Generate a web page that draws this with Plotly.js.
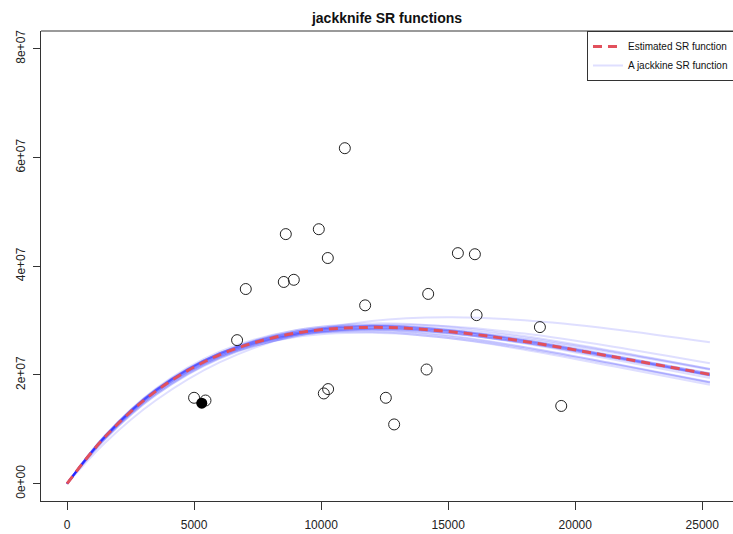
<!DOCTYPE html>
<html>
<head>
<meta charset="utf-8">
<script src="https://cdn.plot.ly/plotly-3.0.1.min.js"></script>
<style>html,body{margin:0;padding:0;background:#fff;overflow:hidden;}#chart{width:733px;height:534px;}</style>
</head>
<body>
<div id="chart"></div>
<script>
// Spawner (S) grid at which the curves were read
const srX = [0, 1500, 3500, 6000, 9000, 12000, 15000, 18000, 21500, 25300];

// Estimated SR function (recruits)
const estimatedR = [0, 8.62e6, 17.03e6, 23.70e6, 27.69e6, 28.75e6, 27.99e6, 26.16e6, 23.34e6, 20.10e6];

// Jackknife SR functions (recruits)
const jk1  = [0, 7.53e6, 15.34e6, 22.30e6, 27.39e6, 29.90e6, 30.60e6, 30.06e6, 28.42e6, 26.00e6];
const jk2  = [0, 8.18e6, 16.35e6, 23.15e6, 27.58e6, 29.20e6, 28.96e6, 27.61e6, 25.20e6, 22.15e6];
const jk3  = [0, 8.39e6, 16.65e6, 23.39e6, 27.61e6, 28.97e6, 28.49e6, 26.88e6, 24.28e6, 21.10e6];
const jk4  = [0, 8.70e6, 17.18e6, 23.91e6, 27.93e6, 29.00e6, 28.23e6, 26.38e6, 23.54e6, 20.20e6];
const jk5  = [0, 8.55e6, 16.88e6, 23.49e6, 27.45e6, 28.50e6, 27.75e6, 25.93e6, 23.14e6, 19.85e6];
const jk6  = [0, 8.80e6, 17.30e6, 23.94e6, 27.79e6, 28.67e6, 27.74e6, 25.76e6, 22.82e6, 19.42e6];
const jk7  = [0, 8.77e6, 17.20e6, 23.72e6, 27.42e6, 28.14e6, 27.13e6, 25.07e6, 22.09e6, 18.70e6];
const jk8  = [0, 8.88e6, 17.49e6, 24.26e6, 28.22e6, 29.18e6, 28.29e6, 26.33e6, 23.38e6, 19.95e6];
const jk9  = [0, 8.58e6, 16.86e6, 23.28e6, 26.97e6, 27.76e6, 26.81e6, 24.84e6, 21.95e6, 18.62e6];
const jk10 = [0, 8.37e6, 16.54e6, 23.12e6, 27.13e6, 28.29e6, 27.64e6, 25.95e6, 23.27e6, 20.07e6];
const jk11 = [0, 8.66e6, 17.14e6, 24.00e6, 28.21e6, 29.48e6, 28.87e6, 27.15e6, 24.40e6, 21.10e6];
const jk12 = [0, 8.84e6, 17.28e6, 23.75e6, 27.33e6, 27.92e6, 26.78e6, 24.65e6, 21.60e6, 18.18e6];
const jk13 = [0, 8.76e6, 17.26e6, 24.00e6, 27.98e6, 28.99e6, 28.15e6, 26.27e6, 23.39e6, 20.02e6];
const jk14 = [0, 8.21e6, 16.33e6, 22.97e6, 27.17e6, 28.56e6, 28.13e6, 26.60e6, 24.08e6, 20.97e6];
const jk15 = [0, 8.91e6, 17.42e6, 23.98e6, 27.66e6, 28.33e6, 27.24e6, 25.13e6, 22.08e6, 18.63e6];
const jk16 = [0, 8.71e6, 17.20e6, 23.94e6, 27.97e6, 29.04e6, 28.27e6, 26.42e6, 23.57e6, 20.30e6];
const jk17 = [0, 8.53e6, 16.86e6, 23.46e6, 27.41e6, 28.46e6, 27.71e6, 25.90e6, 23.11e6, 19.90e6];
const jk18 = [0, 8.65e6, 17.10e6, 23.78e6, 27.75e6, 28.78e6, 27.98e6, 26.10e6, 23.22e6, 19.92e6];
const jk19 = [0, 8.60e6, 16.98e6, 23.62e6, 27.62e6, 28.70e6, 27.98e6, 26.20e6, 23.45e6, 20.28e6];
const jackknifeR = [jk1, jk2, jk3, jk4, jk5, jk6, jk7, jk8, jk9, jk10,
                    jk11, jk12, jk13, jk14, jk15, jk16, jk17, jk18, jk19];

// Observed stock-recruit points
const obsS = [10933, 8610, 9909, 10263, 7035, 8531, 8925, 15382, 16051, 14213, 11732,
              16118, 18610, 6693, 14150, 5000, 5449, 10106, 10275, 12547, 12874, 19449];
const obsR = [61.7e6, 45.9e6, 46.8e6, 41.5e6, 35.8e6, 37.1e6, 37.5e6, 42.4e6, 42.2e6, 34.9e6, 32.8e6,
              31.0e6, 28.8e6, 26.4e6, 21.0e6, 15.8e6, 15.3e6, 16.6e6, 17.4e6, 15.8e6, 10.9e6, 14.3e6];
// Highlighted (filled) point
const hiS = [5303];
const hiR = [14.8e6];

// Axis ticks
const xTicks = [0, 5000, 10000, 15000, 20000, 25000];
const xTickText = ['0', '5000', '10000', '15000', '20000', '25000'];
const yTicks = [0, 2e7, 4e7, 6e7, 8e7];
const yTickText = ['0e+00', '2e+07', '4e+07', '6e+07', '8e+07'];

const FONT = 'Liberation Sans, Arial, sans-serif';
const traces = [];

jackknifeR.forEach(function (r, i) {
  traces.push({
    type: 'scatter', mode: 'lines', x: srX, y: r,
    line: {color: 'rgba(30,30,255,0.14)', width: 2, shape: 'spline', smoothing: 1},
    name: 'A jackkine SR function', showlegend: i === 0, legendrank: 2,
    hoverinfo: 'skip'
  });
});

traces.push({
  type: 'scatter', mode: 'lines', x: srX, y: estimatedR,
  line: {color: '#e2505c', width: 3, dash: '9px,6px', shape: 'spline', smoothing: 1},
  name: 'Estimated SR function', showlegend: true, legendrank: 1
});

traces.push({
  type: 'scatter', mode: 'markers', x: obsS, y: obsR, showlegend: false,
  marker: {symbol: 'circle-open', size: 11, color: '#222', line: {width: 1, color: '#222'}}
});
traces.push({
  type: 'scatter', mode: 'markers', x: hiS, y: hiR, showlegend: false,
  marker: {symbol: 'circle', size: 11, color: '#000'}
});

const layout = {
  width: 733, height: 534,
  margin: {l: 41, r: 0, t: 31, b: 33, pad: 0, autoexpand: false},
  paper_bgcolor: '#fff', plot_bgcolor: '#fff',
  font: {family: FONT, size: 12, color: '#222'},
  title: {text: '<b>jackknife SR functions</b>', font: {family: FONT, size: 14, color: '#111'},
          xref: 'paper', x: 0.5, xanchor: 'center', yref: 'container', y: 0.966, yanchor: 'middle'},
  xaxis: {
    range: [-1024, 26209], showgrid: false, zeroline: false, automargin: false,
    showline: true, linecolor: '#333', linewidth: 1,
    ticks: 'outside', ticklen: 8, tickcolor: '#333', tickwidth: 1,
    tickvals: xTicks, ticktext: xTickText, ticklabelstandoff: 5,
    tickfont: {family: FONT, size: 12, color: '#222'}
  },
  yaxis: {
    range: [-3.18e6, 83.25e6], showgrid: false, zeroline: false, automargin: false,
    showline: true, linecolor: '#333', linewidth: 1,
    ticks: 'outside', ticklen: 7, tickcolor: '#333', tickwidth: 1,
    tickvals: yTicks, ticktext: yTickText, tickangle: -90, ticklabelstandoff: 3,
    tickfont: {family: FONT, size: 12, color: '#222'}
  },
  shapes: [{type: 'line', xref: 'paper', yref: 'paper', x0: 0, x1: 1, y0: 1, y1: 1,
            line: {color: '#9a9a9a', width: 2}}],
  legend: {x: 0.789, xanchor: 'left', y: 1, yanchor: 'top',
           bordercolor: '#333', borderwidth: 1, bgcolor: '#fff',
           font: {family: FONT, size: 10, color: '#111'}, traceorder: 'normal'},
  showlegend: true
};

Plotly.newPlot('chart', traces, layout, {displayModeBar: false, staticPlot: true});
</script>
</body>
</html>
